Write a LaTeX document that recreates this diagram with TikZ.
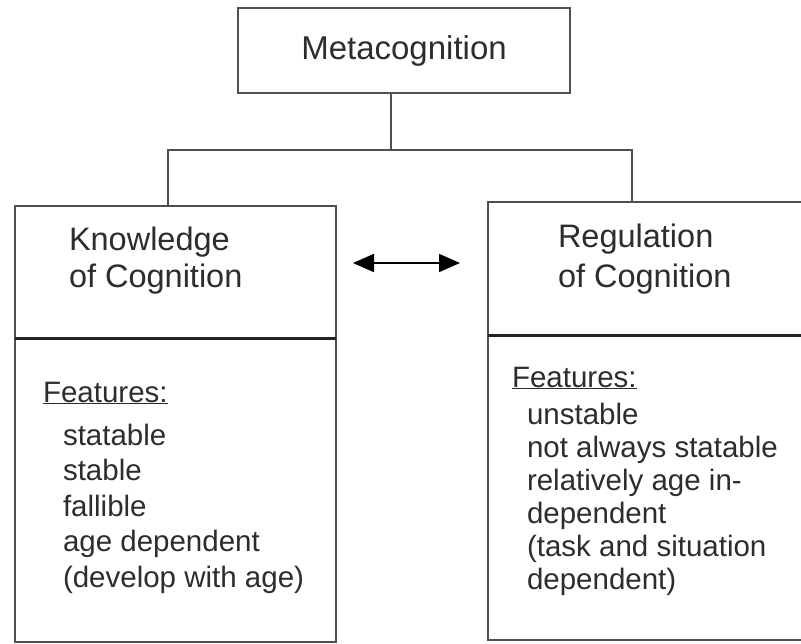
\documentclass[tikz,border=0pt]{standalone}
\usepackage{fontspec}
\setmainfont{Liberation Sans}
\usetikzlibrary{arrows.meta,positioning}
\definecolor{boxline}{RGB}{80,80,80}
\definecolor{ruleline}{RGB}{35,35,35}
\definecolor{ink}{RGB}{45,45,45}

\begin{document}
\begin{tikzpicture}[x=1pt, y=-1pt,
  every node/.style={inner sep=0pt, outer sep=0pt},
  frame/.style={draw=boxline, line width=2pt, fill=white},
  title/.style={text=ink, font=\fontsize{32.5}{37}\selectfont, anchor=base west, align=left},
  list/.style={text=ink, font=\fontsize{29.5}{35.5}\selectfont, anchor=base west, align=left},
  link/.style={draw=boxline, line width=2pt},
  divider/.style={draw=ruleline, line width=3pt},
]
\useasboundingbox (0,0) rectangle (801,643);

% Boxes
\node[frame, minimum width=332pt, minimum height=85pt, font=\fontsize{33}{38}\selectfont, text=ink] (meta) at (404,50.5) {Metacognition};
\node[frame, minimum width=321pt, minimum height=436pt] (know) at (175.5,424) {};
\node[frame, minimum width=327pt, minimum height=438pt] (reg) at (651.5,421) {};

% Dividers
\draw[divider] (know.west |- 0,338) -- (know.east |- 0,338);
\draw[divider] (reg.west |- 0,335) -- (reg.east |- 0,335);

% Titles (base = last line)
\node[title] (knowtitle) at (69,287) {Knowledge\\of Cognition};
\node[title, font=\fontsize{32.5}{40}\selectfont] (regtitle) at (558,287) {Regulation\\of Cognition};

% Features
\node[list] (knowfeat) at (43,402) {\underline{Features:}};
\node[list] (knowitems) at (63,587) {statable\\stable\\fallible\\age dependent\\(develop with age)};
\node[list] (regfeat) at (512,387) {\underline{Features:}};
\node[list, font=\fontsize{29.5}{33}\selectfont] (regitems) at (527,589) {unstable\\not always statable\\relatively age in-\\dependent\\(task and situation\\dependent)};

% Tree lines
\coordinate (stem) at (391,93);
\coordinate (knowin) at (168,206);
\coordinate (regin) at (632,202);
\draw[link] (stem) |- (knowin |- 0,150) -- (knowin);
\draw[link] (stem) |- (regin |- 0,150) -- (regin);

% Two-way arrow
\coordinate (arrowl) at (353,263);
\coordinate (arrowr) at (460,263);
\draw[draw=black, line width=1.8pt, {Triangle[length=21pt,width=18pt]}-{Triangle[length=21pt,width=18pt]}] (arrowl) -- (arrowr);

\end{tikzpicture}
\end{document}
